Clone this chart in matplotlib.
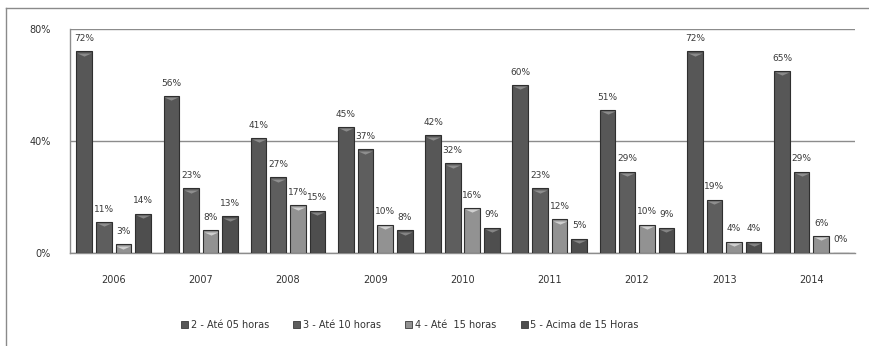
import matplotlib as mpl

mpl.rcParams.update({"font.size": 7, "font.family": "DejaVu Sans"})

import matplotlib.pyplot as plt
import matplotlib.transforms as mtransforms
from matplotlib.lines import Line2D
import numpy as np

years = ["2006", "2007", "2008", "2009", "2010", "2011", "2012", "2013", "2014"]

ate_05 = [72, 56, 41, 45, 42, 60, 51, 72, 65]
ate_10 = [11, 23, 27, 37, 32, 23, 29, 19, 29]
ate_15 = [3, 8, 17, 10, 16, 12, 10, 4, 6]
acima_15 = [14, 13, 15, 8, 9, 5, 9, 4, 0]

series_names = [
    "2 - Até 05 horas",
    "3 - Até 10 horas",
    "4 - Até  15 horas",
    "5 - Acima de 15 Horas",
]
series_values = [ate_05, ate_10, ate_15, acima_15]
colors = ["#575757", "#5e5e5e", "#929292", "#4e4e4e"]
tops = ["#8a8a8a", "#8e8e8e", "#cfcfcf", "#848484"]

# flat triangle used for the bevel at the top of each bar
bevel = [(-1, 0), (1, 0), (0, -0.45), (-1, 0)]

fig = plt.figure(figsize=(8.7, 3.46), dpi=100)
ax = fig.add_axes([70 / 870, 1 - 252.7 / 346, 785 / 870, (252.7 - 29) / 346])

x = np.arange(len(years))
width = 0.18
pitch = 0.225
down = mtransforms.offset_copy(ax.transData, fig=fig, x=0, y=-1, units="points")

for i, (name, vals) in enumerate(zip(series_names, series_values)):
    pos = x + (i - 1.5) * pitch
    ax.bar(pos, vals, width, color=colors[i], edgecolor="#2f2f2f",
           linewidth=0.8, label=name, zorder=3)
    shown = [j for j, v in enumerate(vals) if v > 0]
    ax.plot(pos[shown], np.array(vals)[shown], linestyle="none", marker=bevel,
            markersize=10, color=tops[i], markeredgewidth=0, transform=down,
            zorder=4)
    for p, v in zip(pos, vals):
        ax.annotate(f"{v}%", (p, v), xytext=(0, 6), textcoords="offset points",
                    ha="center", va="bottom", fontsize=6.5, color="#3a3a3a")

ax.set_xlim(-0.5, len(years) - 0.5)
ax.set_ylim(0, 80)
ax.set_yticks([0, 40, 80])
ax.set_yticklabels(["0%", "40%", "80%"])
ax.set_xticks(x)
ax.set_xticklabels(years)
ax.tick_params(axis="both", length=0, colors="#333333", labelsize=7)
ax.tick_params(axis="x", pad=16)
ax.tick_params(axis="y", pad=14)
ax.grid(axis="y", color="#8c8c8c", linewidth=1.0, zorder=0)
for side in ["top", "right"]:
    ax.spines[side].set_visible(False)
for side in ["left", "bottom"]:
    ax.spines[side].set_color("#8c8c8c")
    ax.spines[side].set_linewidth(1.0)

# outer chart border
fig.add_artist(Line2D([6 / 870, 1], [1 - 8 / 346, 1 - 8 / 346],
                      color="#8a8a8a", linewidth=1.0))
fig.add_artist(Line2D([6 / 870, 6 / 870], [0, 1 - 8 / 346],
                      color="#8a8a8a", linewidth=1.0))

handles = [plt.Rectangle((0, 0), 1, 1, facecolor=c, edgecolor="#3a3a3a",
                         linewidth=0.6) for c in colors]
fig.legend(handles, series_names, loc="center", bbox_to_anchor=(410 / 870, 1 - 325 / 346),
           ncol=4, frameon=False, fontsize=7, handlelength=0.7, handleheight=0.7,
           handletextpad=0.3, columnspacing=2.5, labelcolor="#333333")

fig.savefig("out.png", dpi=100)
